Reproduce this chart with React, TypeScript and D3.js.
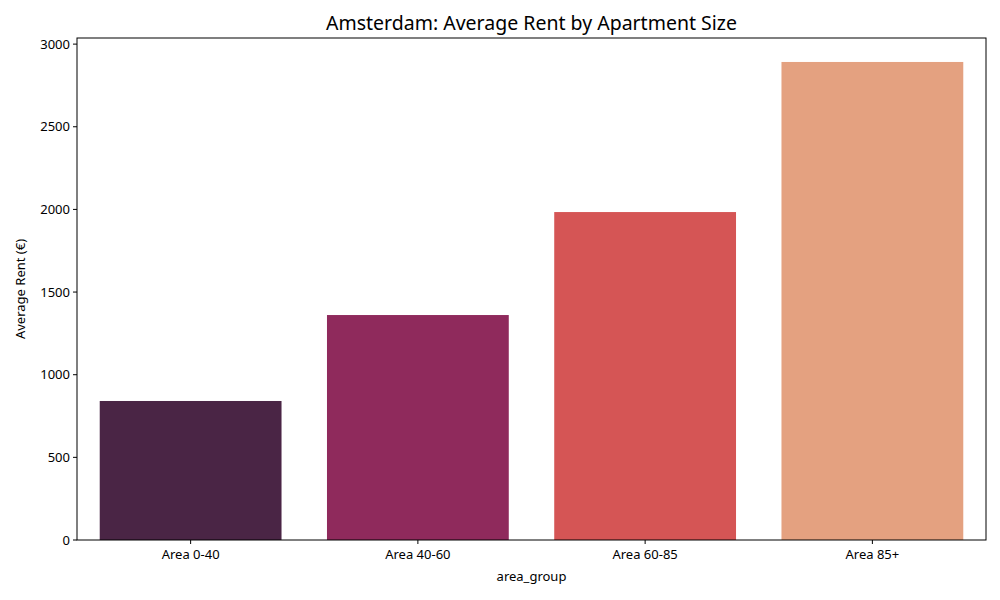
import React from "react";
import * as d3 from "d3";

const categories = ["Area 0-40", "Area 40-60", "Area 60-85", "Area 85+"];
const values = [841, 1361, 1984, 2892];
const colors = ["#4a2545", "#8f2a5c", "#d55555", "#e4a180"];
const yTicks = [0, 500, 1000, 1500, 2000, 2500, 3000];

export default function App() {
  const W = 1000, H = 600;
  const left = 77, right = 986, top = 38, bottom = 540;
  const x = d3.scaleBand<string>().domain(categories).range([left, right]).paddingInner(0.2).paddingOuter(0.1);
  const y = d3.scaleLinear().domain([0, 3037]).range([bottom, top]);
  const font = "'Noto Sans', 'Open Sans', sans-serif";
  return (
    <svg width={W} height={H} style={{ position: "absolute", left: 0, top: 0, background: "#fff" }} fontFamily={font}>
      {categories.map((c, i) => (
        <rect key={c} x={x(c)} y={y(values[i])} width={x.bandwidth()} height={bottom - y(values[i])} fill={colors[i]} />
      ))}
      <rect x={left} y={top} width={right - left} height={bottom - top} fill="none" stroke="#000" strokeWidth={1} />
      {yTicks.map((t) => (
        <g key={t}>
          <line x1={left - 4} x2={left} y1={y(t)} y2={y(t)} stroke="#000" />
          <text x={left - 7} y={y(t)} dy="0.35em" textAnchor="end" fontSize={13}>{t}</text>
        </g>
      ))}
      {categories.map((c) => (
        <g key={c}>
          <line x1={x(c)! + x.bandwidth() / 2} x2={x(c)! + x.bandwidth() / 2} y1={bottom} y2={bottom + 4} stroke="#000" />
          <text x={x(c)! + x.bandwidth() / 2} y={bottom + 19} textAnchor="middle" fontSize={13}>{c}</text>
        </g>
      ))}
      <text x={(left + right) / 2} y={581} textAnchor="middle" fontSize={13}>area_group</text>
      <text transform={`translate(25,${(top + bottom) / 2}) rotate(-90)`} textAnchor="middle" fontSize={13}>Average Rent (€)</text>
      <text x={(left + right) / 2} y={30} textAnchor="middle" fontSize={19.5}>Amsterdam: Average Rent by Apartment Size</text>
    </svg>
  );
}
